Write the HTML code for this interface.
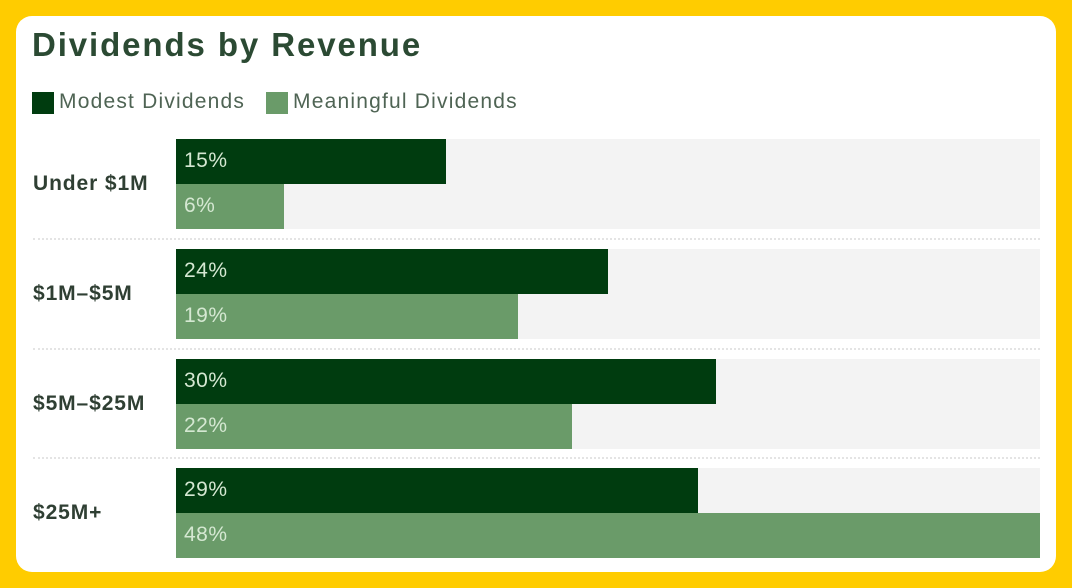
<!DOCTYPE html>
<html><head><style>
body{margin:0;width:1072px;height:588px;background:#ffcc00;font-family:"Liberation Sans",sans-serif;position:relative;overflow:hidden}
.card{position:absolute;left:16px;top:16px;width:1040px;height:556px;background:#fff;border-radius:16px}
.t{position:absolute;left:32px;top:26px;font-size:33px;font-weight:bold;color:#2b4a33;letter-spacing:1.9px}
.lg{position:absolute;top:90px;font-size:21px;color:#4f6454;letter-spacing:1.2px}
.sw{position:absolute;top:92px;width:22px;height:22px}
.track{position:absolute;left:176px;width:864px;height:90px;background:#f3f3f3}
.b{position:absolute;left:176px;height:45px;color:#d5e8d2;font-size:21px;line-height:43px;box-sizing:border-box;padding-left:8px;letter-spacing:0.5px}
.d{background:#003c0f}.l{background:#6a9b69}
.lab{position:absolute;left:33px;font-size:21px;font-weight:bold;color:#2f3f33;letter-spacing:0.9px}
.sep{position:absolute;left:33px;width:1007px;border-top:2px dotted #e4e4e4}
</style></head><body>
<div class="card"></div>
<div class="t">Dividends by Revenue</div>
<div class="sw d" style="left:32px"></div><div class="lg" style="left:59px">Modest Dividends</div>
<div class="sw l" style="left:266px"></div><div class="lg" style="left:293px">Meaningful Dividends</div>

<div class="track" style="top:139px"></div>
<div class="b d" style="top:139px;width:270px">15%</div>
<div class="b l" style="top:184px;width:108px">6%</div>
<div class="lab" style="top:172px">Under $1M</div>
<div class="sep" style="top:238px"></div>

<div class="track" style="top:249px"></div>
<div class="b d" style="top:249px;width:432px">24%</div>
<div class="b l" style="top:294px;width:342px">19%</div>
<div class="lab" style="top:282px">$1M–$5M</div>
<div class="sep" style="top:348px"></div>

<div class="track" style="top:359px"></div>
<div class="b d" style="top:359px;width:540px">30%</div>
<div class="b l" style="top:404px;width:396px">22%</div>
<div class="lab" style="top:392px">$5M–$25M</div>
<div class="sep" style="top:457px"></div>

<div class="track" style="top:468px"></div>
<div class="b d" style="top:468px;width:522px">29%</div>
<div class="b l" style="top:513px;width:864px">48%</div>
<div class="lab" style="top:501px">$25M+</div>
</body></html>
